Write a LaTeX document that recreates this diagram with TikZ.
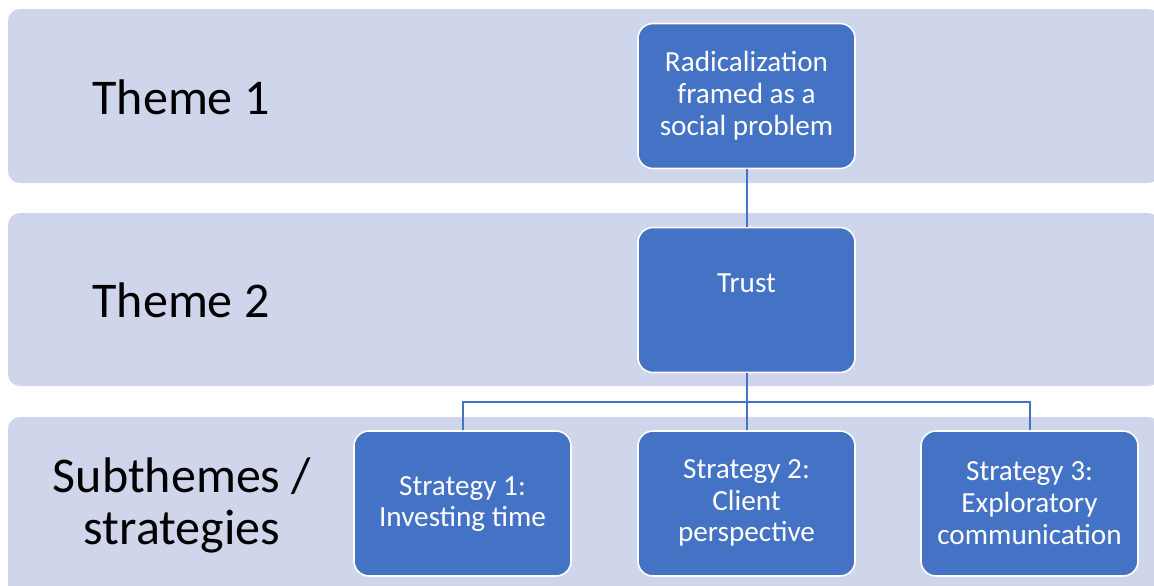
\documentclass[tikz,border=0pt]{standalone}
\usepackage{fontspec}
\setmainfont{Carlito}
\usetikzlibrary{calc}
\definecolor{bandcol}{HTML}{CFD5EA}
\definecolor{boxcol}{HTML}{4472C4}
\definecolor{linecol}{HTML}{4472C4}
\tikzset{
  band/.style={fill=bandcol, draw=none, rounded corners=6pt},
  box/.style={draw=white, line width=0.8pt, fill=boxcol, rounded corners=7.5pt,
    minimum width=108.5pt, minimum height=72.5pt, inner sep=0pt},
  boxtext/.style={text=white, font=\fontsize{14.6}{15.9}\selectfont, align=center, inner sep=0pt},
  theme/.style={text=black, font=\fontsize{25}{26}\selectfont, align=center, inner sep=0pt},
  conn/.style={draw=linecol, line width=1pt}
}
\begin{document}
\begin{tikzpicture}[x=0.5pt,y=-0.5pt]
\useasboundingbox (0,0) rectangle (1154,585);
\fill[white] (0,0) rectangle (1154,585);
% bands
\path[band] (8,9) rectangle (1160,183);
\path[band] (8,213) rectangle (1160,386);
\path[band] (8,417) rectangle (1160,600);
% theme labels
\node[theme] (t1) at (181,97) {Theme 1};
\node[theme] (t2) at (181,300) {Theme 2};
\node[theme] (t3) at (182,505) {Subthemes /\\strategies};
% boxes
\node[box] (rad) at (746.5,96) {};
\node[boxtext] (radt) at (746.5,96) {Radicalization\\framed as a\\social problem};
\node[box] (trust) at (746.5,300) {};
\node[boxtext] (trustt) at (746.5,283) {Trust};
\node[box] (s1) at (462.5,503.5) {};
\node[boxtext] (s1t) at (462.5,504) {Strategy 1:\\Investing time};
\node[box] (s2) at (746.5,503.5) {};
\node[boxtext] (s2t) at (746.5,503) {Strategy 2:\\Client\\perspective};
\node[box] (s3) at (1029.5,503.5) {};
\node[boxtext] (s3t) at (1029.5,503) {Strategy 3:\\Exploratory\\communication};
% connectors
\coordinate (bus) at (746.5,402);
\draw[conn] (rad.south) -- (trust.north);
\draw[conn] (trust.south) -- (bus);
\draw[conn] (bus) -| (s1.north);
\draw[conn] (bus) -| (s3.north);
\draw[conn] (bus) -- (s2.north);
\end{tikzpicture}
\end{document}
